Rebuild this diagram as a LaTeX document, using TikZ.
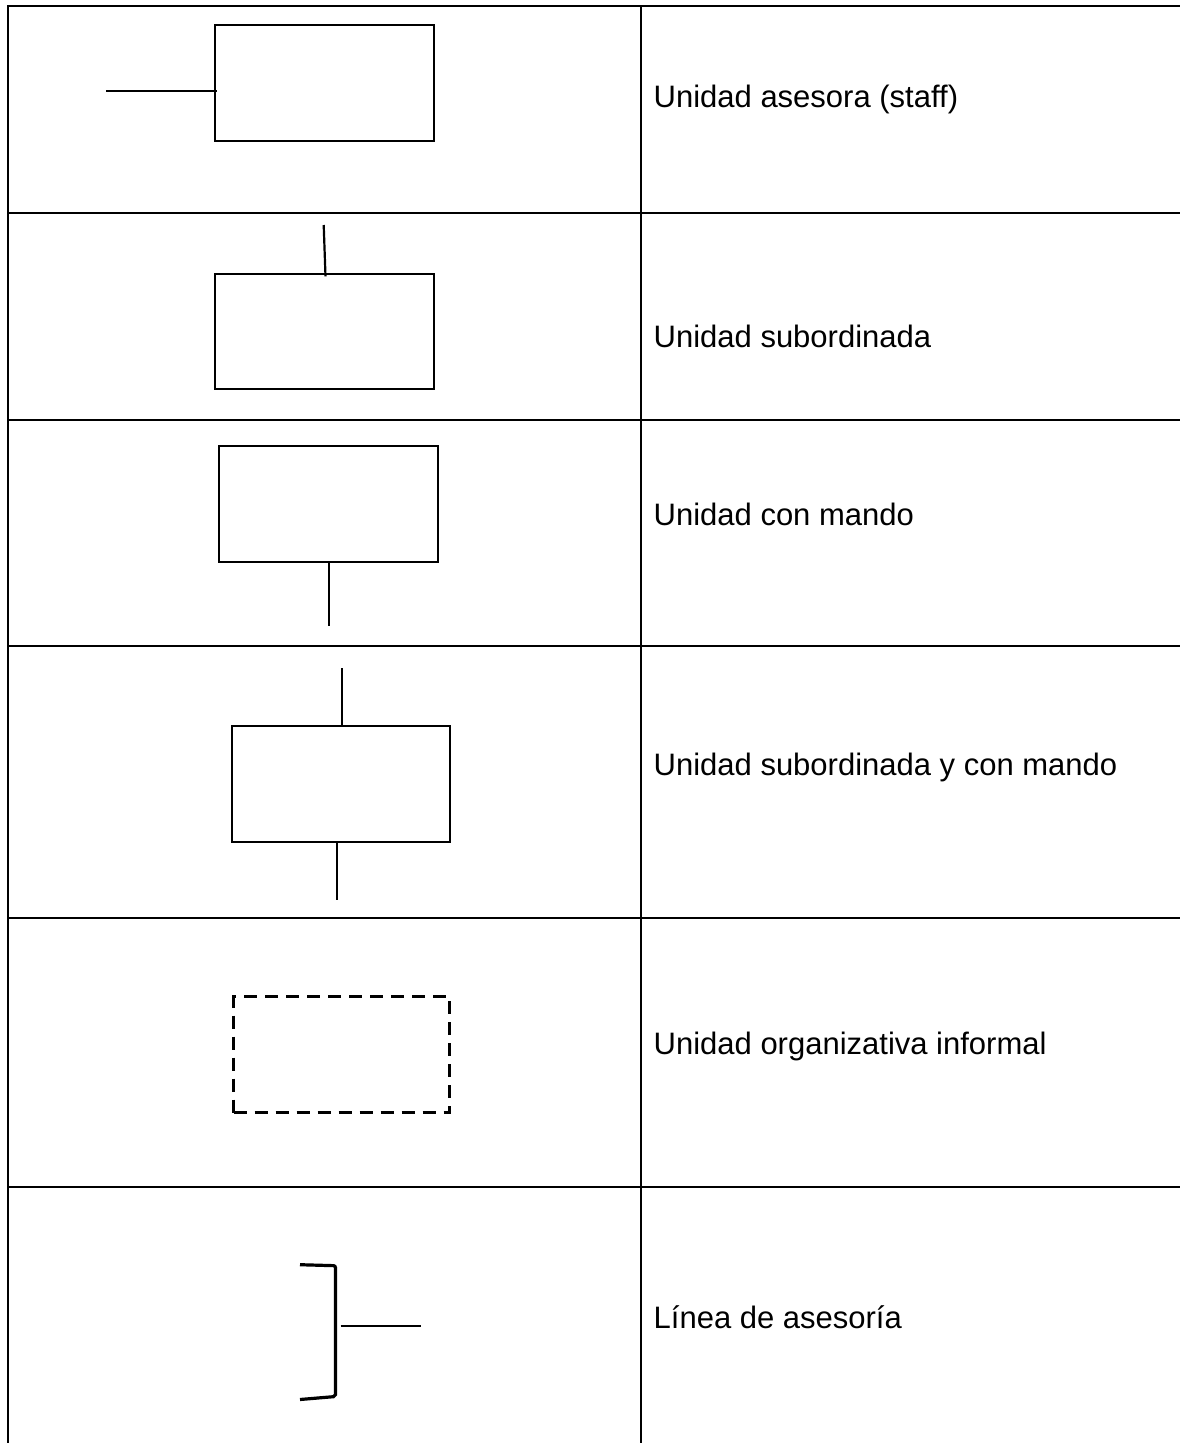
\documentclass[tikz,border=0pt]{standalone}
\usepackage{fontspec}
\setmainfont{Liberation Sans}
\begin{document}
\begin{tikzpicture}[x=1pt,y=-1pt,
  grid/.style={line width=2.6pt,black},
  unitbox/.style={draw,line width=2.2pt,minimum width=219pt,minimum height=116pt,inner sep=0pt},
  infbox/.style={draw,line width=2.2pt,dash pattern=on 13pt off 8pt,minimum width=216pt,minimum height=116pt,inner sep=0pt},
  link/.style={line width=2.2pt},
  label/.style={anchor=base west,inner sep=0pt,font=\fontsize{31pt}{37pt}\selectfont}]
\useasboundingbox (0,0) rectangle (1180,1443);
% table rules
\draw[grid] (8,1443) -- (8,6) -- (1180,6);
\draw[grid] (641,6) -- (641,1443);
\foreach \yy in {213,420,646,918,1187}
  \draw[grid] (8,\yy) -- (1180,\yy);

% row 1: staff unit
\node[unitbox] (b1) at (324.5,83) {};
\coordinate (s1) at (106,91);
\draw[link] (s1) -- ([xshift=3pt]b1.west |- s1);
\node[label] (t1) at (653.5,107) {Unidad asesora (staff)};

% row 2: subordinate unit
\node[unitbox,minimum height=115pt] (b2) at (324.5,331.5) {};
\coordinate (s2) at (323.7,225);
\draw[link] (s2) -- ([xshift=1pt,yshift=-3.5pt]b2.north);
\node[label] (t2) at (653.5,347) {Unidad subordinada};

% row 3: unit with command
\node[unitbox] (b3) at (328.5,504) {};
\coordinate (s3) at (329,626);
\draw[link] (b3.south -| s3) -- (s3);
\node[label] (t3) at (653.5,525) {Unidad con mando};

% row 4: subordinate unit with command
\node[unitbox,minimum width=218pt] (b4) at (340.7,784) {};
\coordinate (u4) at (341.7,668);
\coordinate (l4) at (337.3,900);
\draw[link] (u4) -- (u4 |- b4.north);
\draw[link] (b4.south -| l4) -- (l4);
\node[label] (t4) at (653.5,775) {Unidad subordinada y con mando};

% row 5: informal unit
\node[infbox] (b5) at (341.5,1054.5) {};
\node[label] (t5) at (653.5,1054) {Unidad organizativa informal};

% row 6: advisory line
\draw[line width=3.2pt,rounded corners=2pt] (300,1264.7) -- (335.5,1265.7) -- (335.5,1396.5) -- (300,1399.5);
\coordinate (a6) at (340.7,1326.3);
\coordinate (e6) at (420.7,1326.3);
\draw[link] (a6) -- (e6);
\node[label] (t6) at (653.5,1328) {Línea de asesoría};
\end{tikzpicture}
\end{document}
